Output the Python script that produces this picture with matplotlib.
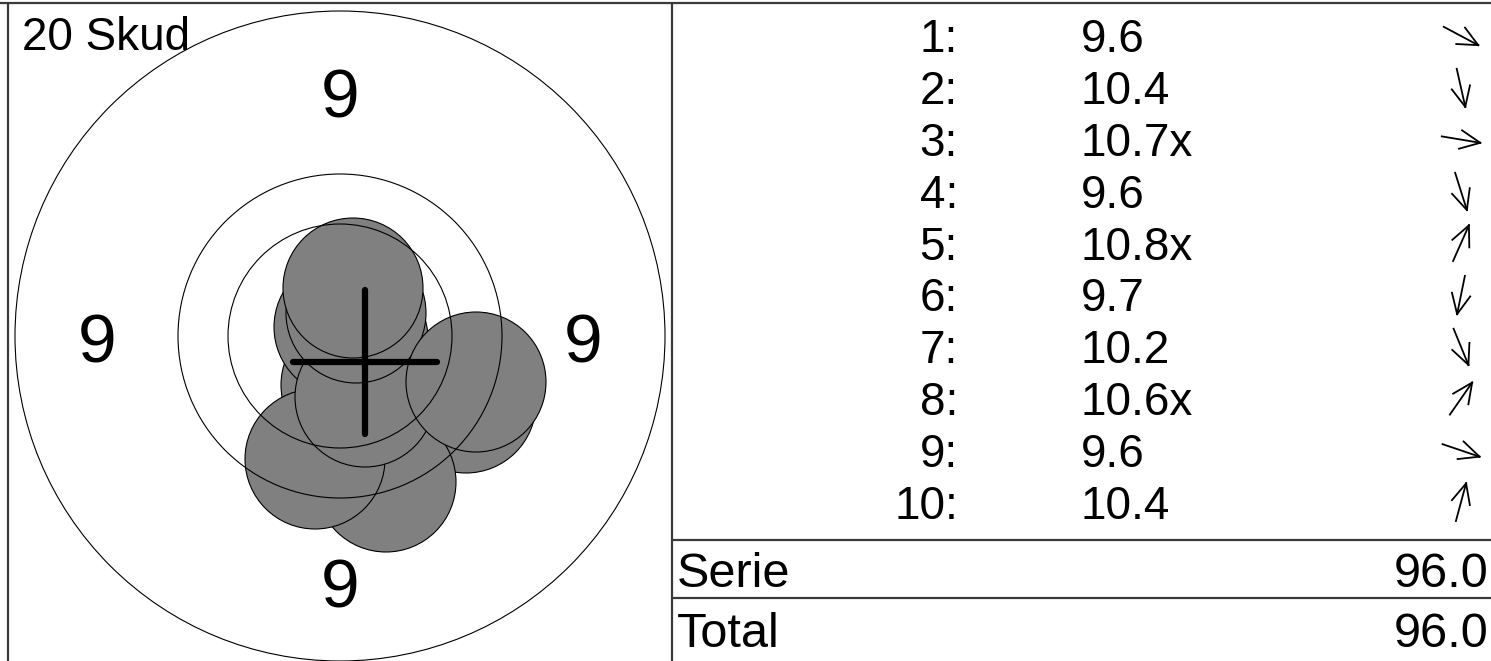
import numpy as np
import matplotlib
matplotlib.use("Agg")
import matplotlib.pyplot as plt
from matplotlib.patches import Circle

plt.rcParams['font.family'] = ['Liberation Sans', 'DejaVu Sans']

# ---------------- data ----------------
shot_numbers = [1, 2, 3, 4, 5, 6, 7, 8, 9, 10]
shot_scores = ["9.6", "10.4", "10.7x", "9.6", "10.8x", "9.7", "10.2", "10.6x", "9.6", "10.4"]
# shot positions relative to target centre (x right, y up), target units
shot_x = [126, 11, 18, 46, 4, -25, 25, 16, 136, 13]
shot_y = [-67, -49, -3, -146, 9, -123, -61, 23, -46, 48]
shot_radius = 70
ring_radii = [325, 162, 112]
ring_label = "9"
mean_point = (25, -26)
shot_count_label = "20 Skud"
serie_label, serie_value = "Serie", "96.0"
total_label, total_value = "Total", "96.0"

# ---------------- figure ----------------
W, H = 1491, 661
fig = plt.figure(figsize=(W / 100, H / 100), dpi=100)
ax = fig.add_axes([0, 0, 1, 1])
ax.set_xlim(0, W)
ax.set_ylim(H, 0)
ax.axis('off')

PX = 100 / 72.0  # px per pt


def ctext(x, yc, s, size, ha, **kw):
    cap = 0.716 * size * PX
    ax.text(x, yc + cap / 2, s, fontsize=size, ha=ha, va='baseline', **kw)


# frame lines
line_col = '#3a3a3a'
ax.plot([0, W], [3, 3], color=line_col, lw=1.6, solid_capstyle='butt')
ax.plot([8, 8], [3, H], color=line_col, lw=1.6, solid_capstyle='butt')
ax.plot([672, 672], [3, H], color=line_col, lw=1.6, solid_capstyle='butt')
ax.plot([672, W], [540, 540], color=line_col, lw=1.6, solid_capstyle='butt')
ax.plot([672, W], [598, 598], color=line_col, lw=1.6, solid_capstyle='butt')

# ---------------- target ----------------
cx, cy = 340, 336

def tx(x):
    return cx + x

def ty(y):
    return cy - y

lab_r = 243
ctext(cx, cy - lab_r, ring_label, 50, 'center', zorder=1)
ctext(cx, cy + lab_r + 4, ring_label, 50, 'center', zorder=1)
ctext(cx - lab_r, cy + 2, ring_label, 50, 'center', zorder=1)
ctext(cx + lab_r, cy + 2, ring_label, 50, 'center', zorder=1)

# shots drawn in firing order, each with its own outline
for k, (x, y) in enumerate(zip(shot_x, shot_y)):
    ax.add_patch(Circle((tx(x), ty(y)), shot_radius, fc='#808080', ec='black',
                        lw=0.8, zorder=2 + k * 0.01))

# rings on top of shots
for r in ring_radii:
    ax.add_patch(Circle((cx, cy), r, fill=False, ec='black', lw=0.8, zorder=3))

mx, my = tx(mean_point[0]), ty(mean_point[1])
arm = 72
ax.plot([mx - arm, mx + arm], [my, my], color='black', lw=4.5, solid_capstyle='round', zorder=4)
ax.plot([mx, mx], [my - arm, my + arm], color='black', lw=4.5, solid_capstyle='round', zorder=4)

ctext(22, 34, shot_count_label, 33, 'left', zorder=5)

# ---------------- table ----------------
row_y0, row_dy = 36, 51.8
for i, (n, s) in enumerate(zip(shot_numbers, shot_scores)):
    yc = row_y0 + i * row_dy
    ctext(958, yc, f"{n}:", 33, 'right')
    ctext(1081, yc, s, 33, 'left')
    # direction arrow
    th = np.arctan2(shot_y[i], shot_x[i])
    L, hb, ha_ = 39, 22, np.radians(25)
    ax_c, ay_c = 1461, yc
    ux, uy = np.cos(th), -np.sin(th)
    tipx, tipy = ax_c + ux * L / 2, ay_c + uy * L / 2
    tailx, taily = ax_c - ux * L / 2, ay_c - uy * L / 2
    ax.plot([tailx, tipx], [taily, tipy], color='black', lw=1.3)
    for sgn in (1, -1):
        a = th + np.pi + sgn * ha_
        ax.plot([tipx, tipx + hb * np.cos(a)], [tipy, tipy - hb * np.sin(a)], color='black', lw=1.3)

ctext(677, 570, serie_label, 35, 'left')
ctext(1488, 570, serie_value, 35, 'right')
ctext(677, 630, total_label, 35, 'left')
ctext(1488, 630, total_value, 35, 'right')

fig.savefig('out.png', dpi=100)
